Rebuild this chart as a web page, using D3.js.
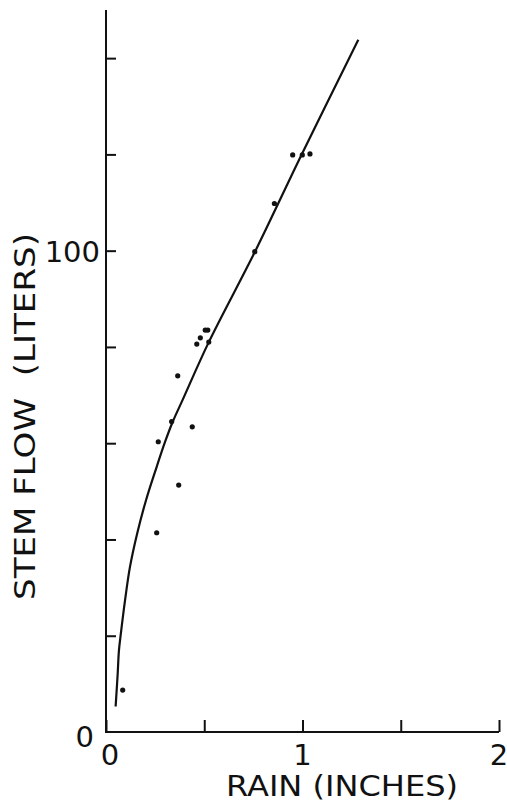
<!DOCTYPE html>
<html>
<head>
<meta charset="utf-8">
<script src="https://cdn.jsdelivr.net/npm/d3@7"></script>
<style>
  html, body { margin: 0; padding: 0; background: #fff; }
  svg { display: block; }
  text { font-family: "DejaVu Sans", sans-serif; fill: #111; }
</style>
</head>
<body>
<svg id="chart" width="507" height="805"></svg>
<script>
// Observed storms: rainfall (inches) and stem flow collected (liters)
const rainInches = [0.085, 0.258, 0.370, 0.266, 0.334, 0.439, 0.365, 0.462, 0.480, 0.505, 0.518, 0.523, 0.757, 0.857, 0.950, 0.999, 1.038];
const stemFlowLiters = [8.7, 41.4, 51.3, 60.3, 64.5, 63.4, 74.0, 80.6, 81.9, 83.5, 83.5, 81.0, 99.8, 109.8, 119.9, 119.9, 120.1];

// Fitted relation drawn through the observations
const curveRain = [0.049, 0.059, 0.066, 0.076, 0.097, 0.122, 0.159, 0.204, 0.258, 0.300, 0.339, 0.390, 0.523, 0.757, 0.997, 1.284];
const curveFlow = [5.3, 11.8, 17.0, 20.6, 27.4, 34.3, 41.3, 48.2, 55.1, 60.2, 64.4, 69.0, 81.0, 99.7, 120.1, 143.8];

// Axis ticks
const xTicks = [0, 0.5, 1, 1.5, 2];
const xTickLabels = ["0", "", "1", "", "2"];
const yTicks = [0, 20, 40, 60, 80, 100, 120, 140];
const yTickLabels = ["0", "", "", "", "", "100", "", ""];

const svg = d3.select("#chart");

const x = d3.scaleLinear().domain([0, 2]).range([106, 499]);
const y = d3.scaleLinear().domain([0, 150]).range([732, 10]);

// Axes with inward ticks
const xAxis = d3.axisTop(x)
  .tickValues(xTicks)
  .tickSize(12)
  .tickSizeOuter(0)
  .tickFormat(() => "");
const gx = svg.append("g").attr("transform", `translate(0,${y(0)})`).call(xAxis);
gx.select(".domain").attr("stroke", "#111").attr("stroke-width", 2).attr("d", `M${x(0)},0H${x(2)}`);
gx.selectAll(".tick line").attr("stroke", "#111").attr("stroke-width", 2);

const yAxis = d3.axisRight(y)
  .tickValues(yTicks.filter(v => v > 0))
  .tickSize(10)
  .tickSizeOuter(0)
  .tickFormat(() => "");
const gy = svg.append("g").attr("transform", `translate(${x(0)},0)`).call(yAxis);
gy.select(".domain").attr("stroke", "#111").attr("stroke-width", 2).attr("d", `M0,${y(0) + 1}V${y(150)}`);
gy.selectAll(".tick line").attr("stroke", "#111").attr("stroke-width", 2);

// Tick labels
svg.append("g").selectAll("text")
  .data(xTicks.map((v, i) => ({ v, label: xTickLabels[i] })).filter(d => d.label))
  .join("text")
  .attr("x", d => x(d.v) + (d.v === 0 ? 4 : 0))
  .attr("y", 765)
  .attr("text-anchor", "middle")
  .attr("font-size", 29)
  .text(d => d.label);

svg.append("g").selectAll("text")
  .data(yTicks.map((v, i) => ({ v, label: yTickLabels[i] })).filter(d => d.label))
  .join("text")
  .attr("x", d => d.v === 0 ? 94 : 100)
  .attr("y", d => y(d.v) + (d.v === 0 ? 15 : 11))
  .attr("text-anchor", "end")
  .attr("font-size", 29)
  .text(d => d.label);

// Axis titles
svg.append("text")
  .attr("x", 226)
  .attr("y", 796)
  .attr("font-size", 28)
  .attr("textLength", 232)
  .attr("lengthAdjust", "spacingAndGlyphs")
  .text("RAIN (INCHES)");

svg.append("text")
  .attr("transform", "translate(35,600) rotate(-90)")
  .attr("font-size", 28)
  .attr("textLength", 367)
  .attr("lengthAdjust", "spacingAndGlyphs")
  .attr("xml:space", "preserve")
  .style("white-space", "pre")
  .text("STEM FLOW  (LITERS)");

// Fitted curve
const line = d3.line()
  .x(d => x(d[0]))
  .y(d => y(d[1]))
  .curve(d3.curveCatmullRom.alpha(0.5));
svg.append("path")
  .datum(curveRain.map((r, i) => [r, curveFlow[i]]))
  .attr("d", line)
  .attr("fill", "none")
  .attr("stroke", "#111")
  .attr("stroke-width", 2.2);

// Observations
svg.append("g").selectAll("circle")
  .data(rainInches.map((r, i) => [r, stemFlowLiters[i]]))
  .join("circle")
  .attr("cx", d => x(d[0]))
  .attr("cy", d => y(d[1]))
  .attr("r", 2.6)
  .attr("fill", "#111");
</script>
</body>
</html>
